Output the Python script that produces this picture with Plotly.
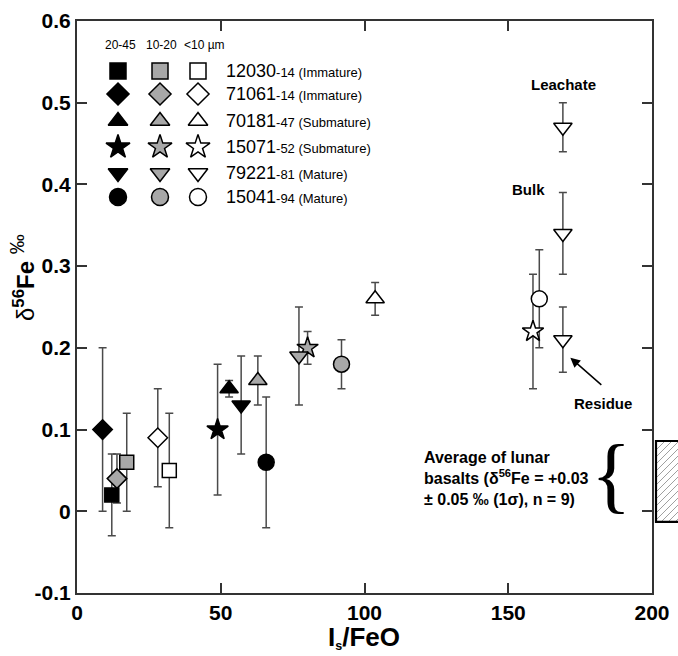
import plotly.graph_objects as go

# ---------------- data ----------------
SAMPLES = ["12030", "71061", "70181", "15071", "79221", "15041"]
SAMPLE_NOTES = ["-14 (Immature)", "-14 (Immature)", "-47 (Submature)",
                "-52 (Submature)", "-81 (Mature)", "-94 (Mature)"]
SYMBOLS = ["square", "diamond", "triangle-up", "star", "triangle-down", "circle"]
FRACTIONS = ["20-45", "10-20", "<10 µm"]
FRACTION_FILLS = ["#000000", "#a8a8a8", "#ffffff"]

# 20-45 µm fraction
F1_SAMPLE = ["12030", "71061", "70181", "15071", "79221", "15041"]
F1_IS_FEO = [12.1, 8.9, 52.9, 48.9, 57.1, 65.8]
F1_D56FE = [0.02, 0.10, 0.15, 0.10, 0.13, 0.06]
F1_ERR = [0.05, 0.10, 0.01, 0.08, 0.06, 0.08]

# 10-20 µm fraction
F2_SAMPLE = ["12030", "71061", "70181", "15071", "79221", "15041"]
F2_IS_FEO = [17.3, 13.9, 62.9, 80.2, 77.2, 92.0]
F2_D56FE = [0.06, 0.04, 0.16, 0.20, 0.19, 0.18]
F2_ERR = [0.06, 0.03, 0.03, 0.02, 0.06, 0.03]

# <10 µm fraction (79221: leachate, bulk, residue)
F3_SAMPLE = ["12030", "71061", "70181", "15071", "79221", "79221", "79221", "15041"]
F3_IS_FEO = [32.1, 28.1, 103.7, 158.6, 169.0, 169.0, 169.0, 160.8]
F3_D56FE = [0.05, 0.09, 0.26, 0.22, 0.47, 0.34, 0.21, 0.26]
F3_ERR = [0.07, 0.06, 0.02, 0.07, 0.03, 0.05, 0.04, 0.06]

# lunar basalt average band (as drawn)
BASALT_LOW = -0.013
BASALT_HIGH = 0.086

X_TICKS = [0, 50, 100, 150, 200]
Y_TICKS = [-0.1, 0, 0.1, 0.2, 0.3, 0.4, 0.5, 0.6]
Y_TICK_TEXT = ["-0.1", "0", "0.1", "0.2", "0.3", "0.4", "0.5", "0.6"]

# ---------------- layout geometry ----------------
W, H = 678, 656
ML, MR, MT, MB = 77, 26, 21, 63
PW, PH = W - ML - MR, H - MT - MB
FONT = "Liberation Sans, Arial, Helvetica, sans-serif"
XR = [0, 200]
YR = [-0.1, 0.6]


def px_u(px):
    return (px - ML) / PW


def py_v(py):
    return (MT + PH - py) / PH


def yv(ydata):
    return (ydata - YR[0]) / (YR[1] - YR[0])


SYM_SIZE = {"square": 14, "diamond": 15, "triangle-up": 16, "star": 16,
            "triangle-down": 16, "circle": 16}
LEG_SIZE = {"square": 16, "diamond": 17, "triangle-up": 17, "star": 18,
            "triangle-down": 17, "circle": 17}
sym_of = dict(zip(SAMPLES, SYMBOLS))

fig = go.Figure()

fractions = [
    (F1_SAMPLE, F1_IS_FEO, F1_D56FE, F1_ERR, FRACTION_FILLS[0]),
    (F2_SAMPLE, F2_IS_FEO, F2_D56FE, F2_ERR, FRACTION_FILLS[1]),
    (F3_SAMPLE, F3_IS_FEO, F3_D56FE, F3_ERR, FRACTION_FILLS[2]),
]

# error bars first (behind all markers)
for smp, xs, ys, es, fill in fractions:
    fig.add_trace(go.Scatter(
        x=xs, y=ys, mode="markers",
        marker=dict(size=1, color="rgba(0,0,0,0)"),
        error_y=dict(type="data", array=es, visible=True, color="#4a4a4a",
                     thickness=1.5, width=4),
        hoverinfo="skip", showlegend=False))

# markers
for smp, xs, ys, es, fill in fractions:
    syms = [sym_of[s] for s in smp]
    fig.add_trace(go.Scatter(
        x=xs, y=ys, mode="markers",
        marker=dict(symbol=syms, size=[SYM_SIZE[s] for s in syms], color=fill,
                    opacity=1, line=dict(color="#000000", width=1.5)),
        showlegend=False))

# ---------------- custom legend (overlay axis in plot fractions) ----------------
LEG_COL_PX = [118, 160, 198]
LEG_ROW_PY = [71, 94, 121, 147, 173, 197]
for ci, fill in enumerate(FRACTION_FILLS):
    fig.add_trace(go.Scatter(
        x=[px_u(LEG_COL_PX[ci])] * len(SAMPLES),
        y=[py_v(p) for p in LEG_ROW_PY],
        xaxis="x2", yaxis="y2", mode="markers",
        marker=dict(symbol=SYMBOLS, size=[LEG_SIZE[s] for s in SYMBOLS],
                    color=fill, opacity=1, line=dict(color="#000000", width=1.5)),
        hoverinfo="skip", showlegend=False))

annotations = []
HEAD_PX = [120, 161, 204]
for ci, name in enumerate(FRACTIONS):
    annotations.append(dict(
        x=px_u(HEAD_PX[ci]), y=py_v(45), xref="paper", yref="paper",
        text=name, showarrow=False, xanchor="center", yanchor="middle",
        font=dict(family=FONT, size=12, color="black")))
for ri, (s, note) in enumerate(zip(SAMPLES, SAMPLE_NOTES)):
    annotations.append(dict(
        x=px_u(224), y=py_v(LEG_ROW_PY[ri]), xref="paper", yref="paper",
        text=f"{s}<span style='font-size:13px'>{note}</span>",
        showarrow=False, xanchor="left", yanchor="middle",
        font=dict(family=FONT, size=18, color="black")))

# point labels
BOLD15 = dict(family=FONT, size=15, color="black", weight="bold")
annotations += [
    dict(x=169.2, y=0.522, xref="x", yref="y", text="Leachate", showarrow=False,
         font=BOLD15, xanchor="center", yanchor="middle"),
    dict(x=156.9, y=0.394, xref="x", yref="y", text="Bulk", showarrow=False,
         font=BOLD15, xanchor="center", yanchor="middle"),
    dict(x=182.9, y=0.132, xref="x", yref="y", text="Residue", showarrow=False,
         font=BOLD15, xanchor="center", yanchor="middle"),
    dict(x=171.6, y=0.188, xref="x", yref="y", text=" ", showarrow=True,
         ax=33, ay=29, arrowhead=2, arrowsize=1.3, arrowwidth=1.5,
         arrowcolor="black", standoff=0, font=dict(size=2)),
]

# lunar basalt text + brace
annotations.append(dict(
    x=px_u(591), y=py_v(478), xref="paper", yref="paper",
    text="Average of lunar<br>basalts (δ<sup>56</sup>Fe = +0.03<br>± 0.05 ‰ (1σ), n = 9)",
    showarrow=False, xanchor="right", yanchor="middle", align="left",
    font=dict(family=FONT, size=16, color="black", weight="bold")))
annotations.append(dict(
    x=px_u(611), y=py_v(474), xref="paper", yref="paper", text="{",
    showarrow=False, xanchor="center", yanchor="middle",
    font=dict(family="Liberation Serif, Times New Roman, serif", size=84, color="black")))

# axis titles
annotations.append(dict(
    x=px_u(364), y=py_v(620), xref="paper", yref="paper",
    text="<b>I<span style='font-size:18px'><sub>s</sub></span>/FeO</b>", showarrow=False,
    xanchor="center", yanchor="top",
    font=dict(family=FONT, size=26, color="black")))
annotations.append(dict(
    x=px_u(22), y=py_v(278), xref="paper", yref="paper",
    text="δ<sup><b>56</b></sup><b>Fe</b> <sup><span style='font-size:20px'>‰</span></sup>",
    showarrow=False, textangle=-90, xanchor="center", yanchor="middle",
    font=dict(family=FONT, size=24, color="black")))

# hatched band box (outside right of plot)
shapes = []
bx0, bx1 = 656, 700
by_top = MT + PH * (1 - yv(BASALT_HIGH))
by_bot = MT + PH * (1 - yv(BASALT_LOW))
c = bx0 + by_top - 40
while c < bx1 + by_bot:
    xa = max(bx0, c - by_bot)
    xb = min(bx1, c - by_top)
    if xb > xa:
        shapes.append(dict(type="line", xref="paper", yref="paper",
                           x0=px_u(xa), y0=py_v(c - xa), x1=px_u(xb), y1=py_v(c - xb),
                           line=dict(color="#a0a0a0", width=1)))
    c += 7
shapes.append(dict(type="rect", xref="paper", yref="paper",
                   x0=px_u(bx0), x1=px_u(bx1), y0=yv(BASALT_LOW), y1=yv(BASALT_HIGH),
                   line=dict(color="black", width=2.2), fillcolor="rgba(0,0,0,0)"))

axis_common = dict(
    ticks="inside", ticklen=10, tickwidth=1.5, tickcolor="#333",
    showline=True, linewidth=2, linecolor="#333", mirror="ticks",
    showgrid=False, zeroline=False, automargin=False,
    tickfont=dict(family=FONT, size=21, color="black", weight="bold"),
)

fig.update_layout(
    template="none",
    width=W, height=H,
    margin=dict(l=ML, r=MR, t=MT, b=MB),
    paper_bgcolor="white", plot_bgcolor="white",
    showlegend=False,
    xaxis=dict(range=XR, tickvals=X_TICKS, **axis_common),
    yaxis=dict(range=YR, tickvals=Y_TICKS, ticktext=Y_TICK_TEXT, **axis_common),
    xaxis2=dict(overlaying="x", range=[0, 1], visible=False, automargin=False),
    yaxis2=dict(overlaying="y", range=[0, 1], visible=False, automargin=False),
    annotations=annotations,
    shapes=shapes,
)

fig.write_html(
    "out.html",
    config={"displayModeBar": False},
    post_script="document.body.style.margin='0';document.body.style.padding='0';"
                "document.body.style.overflow='hidden';",
)
